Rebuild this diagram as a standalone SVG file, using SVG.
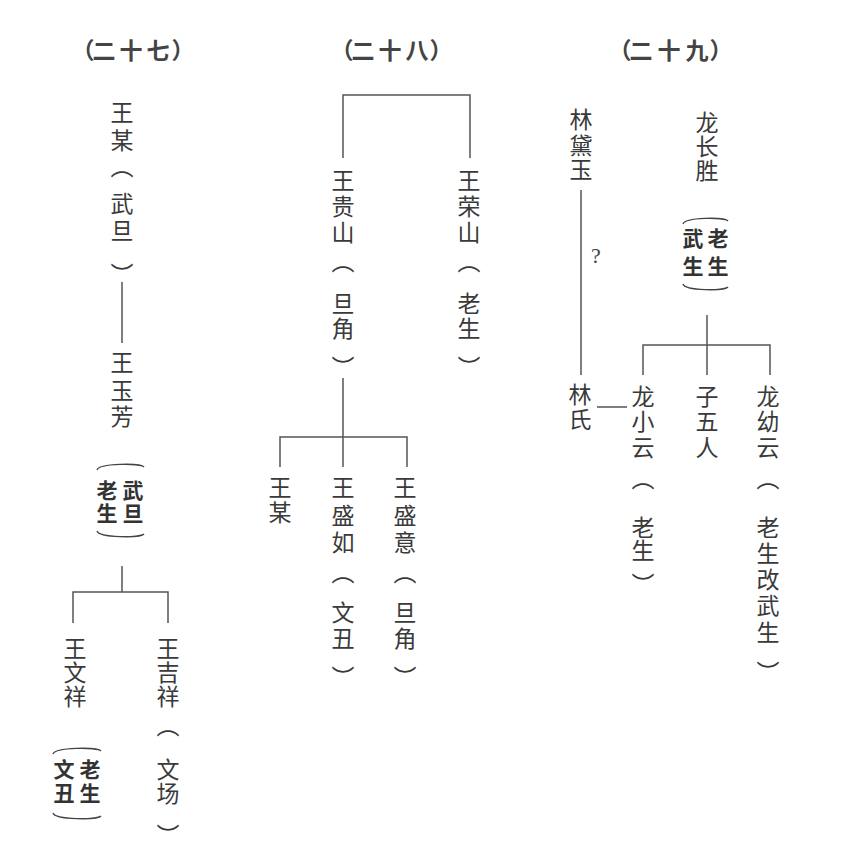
<svg xmlns="http://www.w3.org/2000/svg" width="844" height="868" viewBox="0 0 844 868">
<style>
.t{font-family:"Noto Sans CJK SC","Noto Sans",sans-serif;font-size:23px;fill:#3a3a3a;writing-mode:vertical-rl}
.h{font-family:"Noto Sans CJK SC",sans-serif;font-size:23px;font-weight:bold;fill:#444;text-anchor:middle}
.b{font-family:"Noto Sans CJK SC",sans-serif;font-size:21px;font-weight:bold;fill:#333;writing-mode:vertical-rl}
.q{font-family:"Liberation Serif",serif;font-size:22px;fill:#444;text-anchor:middle}
.l{fill:none;stroke:#555;stroke-width:1.5}
.a{fill:none;stroke:#444;stroke-width:1.3}
</style>
<rect width="844" height="868" fill="#fff"/>
<g id="headers">
<text class="h" y="59"><tspan x="83">（</tspan><tspan x="104">二</tspan><tspan x="131">十</tspan><tspan x="158">七</tspan><tspan x="183">）</tspan></text>
<text class="h" y="59"><tspan x="342">（</tspan><tspan x="363">二</tspan><tspan x="390">十</tspan><tspan x="417">八</tspan><tspan x="441">）</tspan></text>
<text class="h" y="59"><tspan x="620">（</tspan><tspan x="641">二</tspan><tspan x="669">十</tspan><tspan x="697">九</tspan><tspan x="721">）</tspan></text>
</g>
<g id="connectors">
<path class="l" d="M122 282V343"/>
<path class="l" d="M122 566V592M73 623V592H168V623"/>
<path class="l" d="M343 158V95H470V158"/>
<path class="l" d="M343 378V467M280 467V437H407V467"/>
<path class="l" d="M581 190V375"/>
<path class="l" d="M707 315V375M643 375V345H770V375"/>
<path class="l" d="M597 407H627"/>
</g>
<g id="n_wangmou1"><text class="t"><tspan x="122" y="100.5">王</tspan><tspan x="122" y="128.5">某</tspan><tspan x="122" y="154.5">︵</tspan><tspan x="122" y="191.5">武</tspan><tspan x="122" y="218.5">旦</tspan><tspan x="122" y="262.5">︶</tspan></text></g>
<g id="n_wangyufang"><text class="t"><tspan x="122" y="350.5">王</tspan><tspan x="122" y="378.5">玉</tspan><tspan x="122" y="404.5">芳</tspan></text>
<path class="a" d="M97 470C99 463 141 463 144 467"/>
<text class="b"><tspan x="107" y="479.5">老</tspan><tspan x="107" y="502.5">生</tspan><tspan x="133" y="479.5">武</tspan><tspan x="133" y="502.5">旦</tspan></text>
<path class="a" d="M97 531C99 538 141 538 144 534"/></g>
<g id="n_wangwenxiang"><text class="t"><tspan x="75" y="636.5">王</tspan><tspan x="75" y="660.5">文</tspan><tspan x="75" y="684.5">祥</tspan></text>
<path class="a" d="M53 754C55 747 98 747 101 751"/>
<text class="b"><tspan x="64" y="758.5">文</tspan><tspan x="64" y="782.5">丑</tspan><tspan x="90" y="758.5">老</tspan><tspan x="90" y="782.5">生</tspan></text>
<path class="a" d="M53 813C55 820 98 820 101 816"/></g>
<g id="n_wangjixiang"><text class="t"><tspan x="168" y="636.5">王</tspan><tspan x="168" y="660.5">吉</tspan><tspan x="168" y="684.5">祥</tspan><tspan x="168" y="713.5">︵</tspan><tspan x="168" y="757.5">文</tspan><tspan x="168" y="781.5">场</tspan><tspan x="168" y="823.5">︶</tspan></text></g>
<g id="n_wangguishan"><text class="t"><tspan x="343" y="168.5">王</tspan><tspan x="343" y="194.5">贵</tspan><tspan x="343" y="220.5">山</tspan><tspan x="343" y="249.5">︵</tspan><tspan x="343" y="291.5">旦</tspan><tspan x="343" y="316.5">角</tspan><tspan x="343" y="355.5">︶</tspan></text></g>
<g id="n_wangrongshan"><text class="t"><tspan x="469" y="168.5">王</tspan><tspan x="469" y="194.5">荣</tspan><tspan x="469" y="220.5">山</tspan><tspan x="469" y="249.5">︵</tspan><tspan x="469" y="291.5">老</tspan><tspan x="469" y="316.5">生</tspan><tspan x="469" y="355.5">︶</tspan></text></g>
<g id="n_wangmou2"><text class="t"><tspan x="280" y="475.5">王</tspan><tspan x="280" y="500.5">某</tspan></text></g>
<g id="n_wangshengru"><text class="t"><tspan x="343" y="475.5">王</tspan><tspan x="343" y="503.5">盛</tspan><tspan x="343" y="530.5">如</tspan><tspan x="343" y="560.5">︵</tspan><tspan x="343" y="600.5">文</tspan><tspan x="343" y="626.5">丑</tspan><tspan x="343" y="665.5">︶</tspan></text></g>
<g id="n_wangshengyi"><text class="t"><tspan x="405" y="475.5">王</tspan><tspan x="405" y="503.5">盛</tspan><tspan x="405" y="530.5">意</tspan><tspan x="405" y="560.5">︵</tspan><tspan x="405" y="600.5">旦</tspan><tspan x="405" y="626.5">角</tspan><tspan x="405" y="665.5">︶</tspan></text></g>
<g id="n_lindaiyu"><text class="t"><tspan x="581" y="107.5">林</tspan><tspan x="581" y="133.5">黛</tspan><tspan x="581" y="157.5">玉</tspan></text></g>
<g id="n_question"><text class="q" x="596" y="263">?</text></g>
<g id="n_longchangsheng"><text class="t"><tspan x="707" y="110.5">龙</tspan><tspan x="707" y="134.5">长</tspan><tspan x="707" y="158.5">胜</tspan></text>
<path class="a" d="M683 224C685 217 725 217 728 221"/>
<text class="b"><tspan x="693" y="227.5">武</tspan><tspan x="693" y="255.5">生</tspan><tspan x="718" y="227.5">老</tspan><tspan x="718" y="255.5">生</tspan></text>
<path class="a" d="M683 284C685 291 725 291 728 287"/></g>
<g id="n_linshi"><text class="t"><tspan x="580" y="382.5">林</tspan><tspan x="580" y="407.5">氏</tspan></text></g>
<g id="n_longxiaoyun"><text class="t"><tspan x="643" y="384.5">龙</tspan><tspan x="643" y="409.5">小</tspan><tspan x="643" y="435.5">云</tspan><tspan x="643" y="466.5">︵</tspan><tspan x="643" y="515.5">老</tspan><tspan x="643" y="538.5">生</tspan><tspan x="643" y="572.5">︶</tspan></text></g>
<g id="n_ziwuren"><text class="t"><tspan x="707" y="384.5">子</tspan><tspan x="707" y="409.5">五</tspan><tspan x="707" y="435.5">人</tspan></text></g>
<g id="n_longyouyun"><text class="t"><tspan x="768" y="384.5">龙</tspan><tspan x="768" y="409.5">幼</tspan><tspan x="768" y="435.5">云</tspan><tspan x="768" y="466.5">︵</tspan><tspan x="768" y="515.5">老</tspan><tspan x="768" y="541.5">生</tspan><tspan x="768" y="567.5">改</tspan><tspan x="768" y="593.5">武</tspan><tspan x="768" y="620.5">生</tspan><tspan x="768" y="660.5">︶</tspan></text></g>
</svg>
